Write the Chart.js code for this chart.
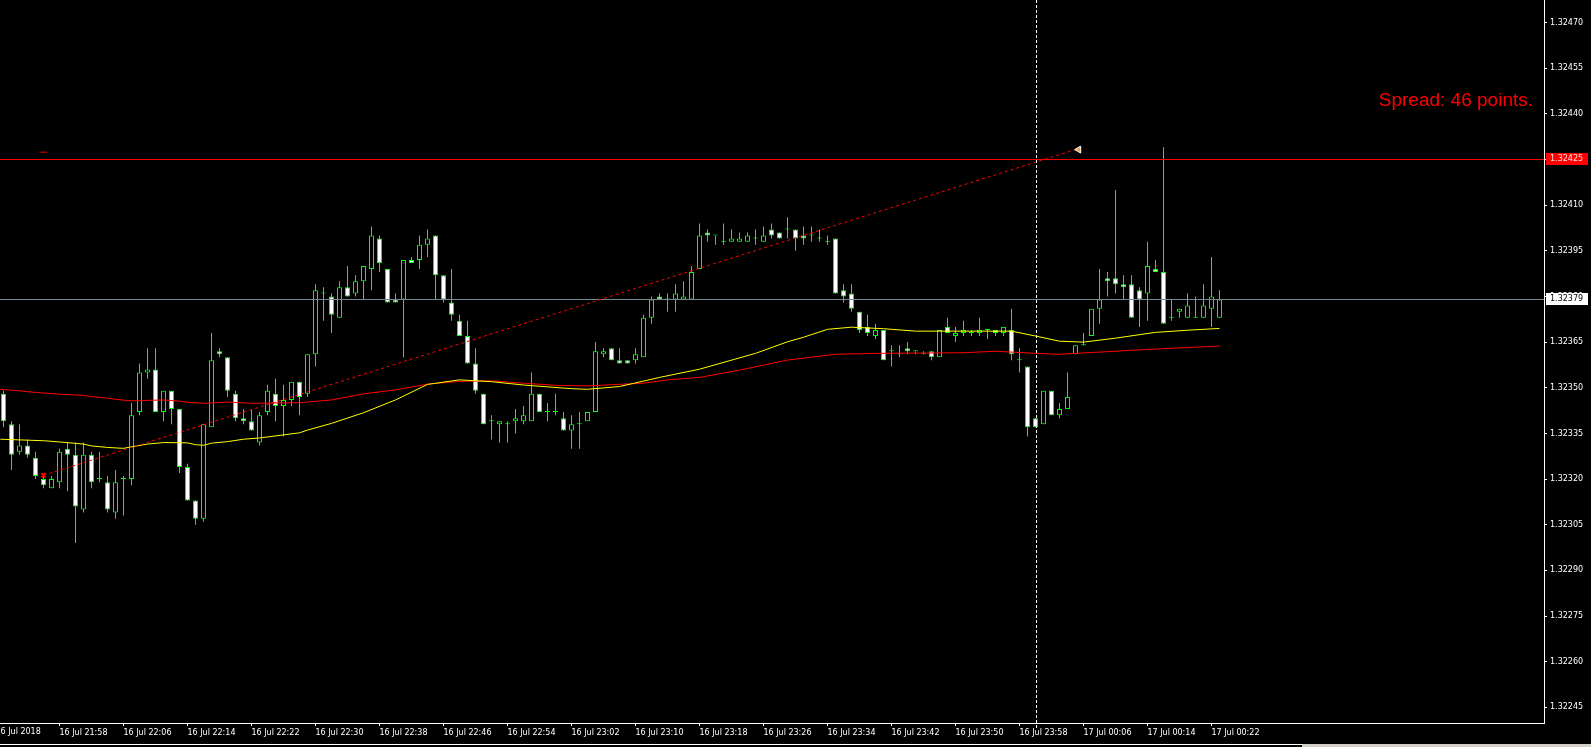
<!DOCTYPE html>
<html>
<head>
<meta charset="utf-8">
<script src="https://cdn.jsdelivr.net/npm/chart.js@4.4.0/dist/chart.umd.min.js"></script>
<style>
  html, body { margin: 0; padding: 0; background: #000; overflow: hidden; }
  canvas { display: block; }
</style>
</head>
<body>
<canvas id="chart" width="1591" height="747"></canvas>
<script>
// M1 candles, 16 Jul 21:51 .. 17 Jul 00:23 (one per minute)
var firstCandle = "16 Jul 21:51";
var open = [
 1.32348,1.32338,1.32329,1.32331,1.32327,1.32320,1.32317,1.32319,1.32330,1.32328,
 1.32310,1.32328,1.32320,1.32319,1.32309,1.32320,1.32320,1.32342,1.32355,1.32356,
 1.32342,1.32349,1.32343,1.32324,1.32313,1.32307,1.32337,1.32362,1.32360,1.32348,
 1.32340,1.32339,1.32332,1.32342,1.32348,1.32344,1.32346,1.32352,1.32348,1.32361,
 1.32381,1.32380,1.32373,1.32383,1.32381,1.32385,1.32389,1.32399,1.32389,1.32379,
 1.32379,1.32392,1.32392,1.32397,1.32400,1.32387,1.32378,1.32372,1.32367,1.32358,
 1.32348,1.32339,1.32338,1.32338,1.32339,1.32339,1.32339,1.32348,1.32342,1.32342,
 1.32340,1.32336,1.32338,1.32339,1.32342,1.32361,1.32363,1.32359,1.32359,1.32359,
 1.32360,1.32373,1.32380,1.32379,1.32379,1.32379,1.32379,1.32389,1.32401,1.32400,
 1.32398,1.32398,1.32398,1.32398,1.32399,1.32398,1.32402,1.32401,1.32402,1.32402,
 1.32400,1.32400,1.32399,1.32398,1.32399,1.32382,1.32381,1.32375,1.32370,1.32367,
 1.32369,1.32362,1.32361,1.32363,1.32362,1.32361,1.32362,1.32360,1.32370,1.32367,
 1.32368,1.32368,1.32368,1.32369,1.32369,1.32368,1.32369,1.32359,1.32357,1.32340,
 1.32338,1.32349,1.32341,1.32343,1.32361,1.32364,1.32367,1.32376,1.32386,1.32386,
 1.32384,1.32384,1.32382,1.32381,1.32389,1.32388,1.32373,1.32375,1.32373,1.32373,
 1.32373,1.32376,1.32373];
var high = [
 1.32349,1.32339,1.32338,1.32333,1.32329,1.32321,1.32321,1.32330,1.32332,1.32332,
 1.32332,1.32329,1.32329,1.32321,1.32323,1.32321,1.32345,1.32358,1.32363,1.32363,
 1.32349,1.32349,1.32343,1.32325,1.32313,1.32338,1.32368,1.32363,1.32360,1.32349,
 1.32343,1.32343,1.32342,1.32351,1.32353,1.32351,1.32352,1.32352,1.32361,1.32384,
 1.32383,1.32381,1.32385,1.32390,1.32387,1.32390,1.32403,1.32400,1.32389,1.32381,
 1.32392,1.32393,1.32400,1.32402,1.32400,1.32387,1.32389,1.32374,1.32372,1.32363,
 1.32348,1.32341,1.32339,1.32339,1.32343,1.32344,1.32355,1.32348,1.32345,1.32348,
 1.32342,1.32341,1.32342,1.32342,1.32365,1.32363,1.32363,1.32363,1.32359,1.32363,
 1.32374,1.32380,1.32381,1.32381,1.32384,1.32385,1.32390,1.32404,1.32402,1.32400,
 1.32404,1.32402,1.32401,1.32401,1.32402,1.32403,1.32404,1.32401,1.32406,1.32402,
 1.32403,1.32403,1.32402,1.32400,1.32399,1.32384,1.32384,1.32375,1.32374,1.32371,
 1.32369,1.32364,1.32364,1.32365,1.32362,1.32362,1.32362,1.32369,1.32373,1.32370,
 1.32372,1.32369,1.32373,1.32369,1.32369,1.32370,1.32376,1.32363,1.32357,1.32340,
 1.32349,1.32349,1.32345,1.32355,1.32364,1.32368,1.32376,1.32389,1.32388,1.32415,
 1.32387,1.32387,1.32383,1.32398,1.32392,1.32429,1.32379,1.32376,1.32381,1.32380,
 1.32384,1.32393,1.32382];
var low = [
 1.32337,1.32323,1.32328,1.32327,1.32320,1.32317,1.32317,1.32317,1.32316,1.32299,
 1.32309,1.32317,1.32319,1.32309,1.32307,1.32308,1.32318,1.32341,1.32353,1.32342,
 1.32339,1.32338,1.32322,1.32313,1.32305,1.32306,1.32337,1.32360,1.32347,1.32339,
 1.32338,1.32336,1.32331,1.32341,1.32339,1.32334,1.32344,1.32341,1.32347,1.32357,
 1.32372,1.32368,1.32373,1.32380,1.32380,1.32379,1.32382,1.32388,1.32378,1.32378,
 1.32360,1.32391,1.32389,1.32393,1.32379,1.32378,1.32372,1.32367,1.32358,1.32348,
 1.32338,1.32333,1.32332,1.32332,1.32335,1.32338,1.32339,1.32342,1.32339,1.32341,
 1.32336,1.32330,1.32330,1.32339,1.32342,1.32360,1.32359,1.32358,1.32358,1.32358,
 1.32360,1.32371,1.32379,1.32375,1.32375,1.32379,1.32379,1.32389,1.32398,1.32397,
 1.32397,1.32398,1.32398,1.32398,1.32397,1.32398,1.32399,1.32399,1.32399,1.32395,
 1.32397,1.32398,1.32398,1.32397,1.32381,1.32378,1.32375,1.32368,1.32367,1.32366,
 1.32359,1.32357,1.32360,1.32361,1.32361,1.32361,1.32359,1.32360,1.32368,1.32365,
 1.32367,1.32367,1.32367,1.32366,1.32367,1.32367,1.32359,1.32355,1.32334,1.32337,
 1.32338,1.32341,1.32340,1.32343,1.32361,1.32364,1.32367,1.32371,1.32380,1.32381,
 1.32379,1.32373,1.32370,1.32372,1.32388,1.32371,1.32372,1.32373,1.32373,1.32373,
 1.32373,1.32370,1.32373];
var close = [
 1.32339,1.32328,1.32331,1.32328,1.32321,1.32318,1.32320,1.32329,1.32328,1.32311,
 1.32328,1.32319,1.32320,1.32310,1.32319,1.32320,1.32341,1.32355,1.32356,1.32342,
 1.32349,1.32343,1.32324,1.32313,1.32307,1.32338,1.32359,1.32361,1.32349,1.32340,
 1.32339,1.32336,1.32341,1.32349,1.32344,1.32346,1.32352,1.32347,1.32361,1.32382,
 1.32381,1.32374,1.32383,1.32380,1.32385,1.32390,1.32400,1.32391,1.32378,1.32378,
 1.32392,1.32391,1.32397,1.32399,1.32387,1.32379,1.32374,1.32367,1.32358,1.32349,
 1.32338,1.32339,1.32339,1.32338,1.32340,1.32341,1.32348,1.32342,1.32342,1.32342,
 1.32336,1.32338,1.32338,1.32342,1.32362,1.32362,1.32359,1.32358,1.32358,1.32361,
 1.32373,1.32379,1.32379,1.32379,1.32381,1.32380,1.32388,1.32400,1.32400,1.32400,
 1.32398,1.32399,1.32399,1.32400,1.32399,1.32400,1.32400,1.32399,1.32402,1.32399,
 1.32399,1.32400,1.32399,1.32398,1.32381,1.32380,1.32376,1.32369,1.32368,1.32369,
 1.32359,1.32362,1.32361,1.32362,1.32362,1.32361,1.32360,1.32369,1.32368,1.32368,
 1.32369,1.32368,1.32369,1.32369,1.32368,1.32370,1.32361,1.32359,1.32337,1.32337,
 1.32349,1.32341,1.32343,1.32347,1.32364,1.32364,1.32376,1.32379,1.32385,1.32384,
 1.32383,1.32373,1.32379,1.32390,1.32388,1.32371,1.32373,1.32376,1.32377,1.32373,
 1.32377,1.32380,1.32379];

// moving averages (candle index -> value)
var yellowMaIdx = [-0.4,5,7,10,11,13,15,16,18,20,23,24,25,26,28,30,32,37,38,41,45,49,53,57,61,65,71,73,77,82,87,94,98,100,103,106,110,114,126,129,132,135,139,144,148,152];
var yellowMa = [1.323331,1.323326,1.323322,1.323315,1.323309,1.323304,1.323301,1.323306,1.323315,1.323320,1.323319,1.323313,1.323311,1.323318,1.323323,1.323331,1.323335,1.323352,1.323361,1.323383,1.323418,1.323460,1.323511,1.323526,1.323520,1.323509,1.323497,1.323495,1.323504,1.323534,1.323561,1.323613,1.323651,1.323666,1.323692,1.323699,1.323694,1.323686,1.323686,1.323670,1.323653,1.323650,1.323663,1.323682,1.323689,1.323695];
var redMaIdx = [-0.4,2,3,5,7,10,11,13,14,16,20,22,23,25,28,31,37,41,45,49,53,57,61,65,69,73,76,80,83,87,92,98,104,109,120,124,129,132,143,152];
var redMa = [1.323495,1.323490,1.323487,1.323483,1.323479,1.323475,1.323471,1.323466,1.323462,1.323457,1.323460,1.323456,1.323452,1.323449,1.323453,1.323449,1.323451,1.323460,1.323480,1.323493,1.323512,1.323521,1.323523,1.323515,1.323508,1.323506,1.323510,1.323515,1.323526,1.323534,1.323558,1.323591,1.323610,1.323613,1.323615,1.323620,1.323613,1.323610,1.323626,1.323637];

// trend line, price lines, markers
var trendIdx = [5, 134];
var trendPrice = [1.3232125, 1.3242825];
var askPrice = 1.32425;
var bidPrice = 1.32379;
var daySepIdx = 129;
var spreadText = "Spread: 46 points.";

// axes
var xTickIdx = [7,15,23,31,39,47,55,63,71,79,87,95,103,111,119,127,135,143,151];
var xTickLabels = ["16 Jul 21:58","16 Jul 22:06","16 Jul 22:14","16 Jul 22:22","16 Jul 22:30","16 Jul 22:38","16 Jul 22:46","16 Jul 22:54","16 Jul 23:02","16 Jul 23:10","16 Jul 23:18","16 Jul 23:26","16 Jul 23:34","16 Jul 23:42","16 Jul 23:50","16 Jul 23:58","17 Jul 00:06","17 Jul 00:14","17 Jul 00:22"];
var dateLabel = "16 Jul 2018";
var yTicks = [1.32245,1.32260,1.32275,1.32290,1.32305,1.32320,1.32335,1.32350,1.32365,1.32380,1.32395,1.32410,1.32425,1.32440,1.32455,1.32470];

var main = function () {
    "use strict";
    var LIME = "#00ff00";
    var FONT = "\"DejaVu Sans\", Verdana, sans-serif";
    var xMin = -0.4375, xMax = 192.5625;
    var yMin = 1.3223987, yMax = 1.3247739;

    //Candle Part
    var wicks = [], bodies = [], fills = [];
    for (var i = 0; i < open.length; i++) {
        wicks.push({x: i, y: [low[i], high[i]]});
        bodies.push({x: i, y: [open[i], close[i]]});
        fills.push(close[i] < open[i] ? "#ffffff" : "#000000");
    }
    var toPoints = function (xs, ys) {
        return xs.map(function (v, j) { return {x: v, y: ys[j]}; });
    };
    var lineSet = function (data, color, extra) {
        var ds = {type: "line", data: data, borderColor: color, borderWidth: 1, pointRadius: 0,
                  tension: 0, fill: false};
        for (var k in extra) { ds[k] = extra[k]; }
        return ds;
    };

    //Overlay Part (separator, price boxes, comment text)
    var overlay = {
        id: "overlay",
        beforeDraw: function (chart) {
            var ctx = chart.ctx;
            ctx.save();
            ctx.fillStyle = "#000";
            ctx.fillRect(0, 0, chart.width, chart.height);
            ctx.restore();
        },
        beforeDatasetsDraw: function (chart) {
            var ctx = chart.ctx, area = chart.chartArea;
            var sx = Math.round(chart.scales.x.getPixelForValue(daySepIdx)) + 0.5;
            ctx.save();
            ctx.strokeStyle = "#ffffff";
            ctx.lineWidth = 1;
            ctx.setLineDash([3, 2]);
            ctx.beginPath();
            ctx.moveTo(sx, area.top);
            ctx.lineTo(sx, area.bottom + 5);
            ctx.stroke();
            ctx.restore();
        },
        afterDraw: function (chart) {
            var ctx = chart.ctx, area = chart.chartArea;
            var xs = chart.scales.x, ys = chart.scales.y;
            ctx.save();
            // price boxes on the axis
            var box = function (v, bg, fg) {
                var y = Math.round(ys.getPixelForValue(v));
                ctx.fillStyle = bg;
                ctx.fillRect(area.right + 2, y - 6, 42, 12);
                ctx.fillStyle = fg;
                ctx.font = "8px " + FONT;
                ctx.textBaseline = "middle";
                ctx.textAlign = "left";
                ctx.fillText(v.toFixed(5), area.right + 6, y);
            };
            box(askPrice, "#ff0000", "#ffe0e0");
            box(bidPrice, "#ffffff", "#000000");
            // first (cut) date label
            ctx.fillStyle = "#ffffff";
            ctx.font = "8px " + FONT;
            ctx.textBaseline = "middle";
            ctx.textAlign = "left";
            ctx.fillText(dateLabel, xs.getPixelForValue(-1), xs.top + 9);
            // spread comment
            ctx.fillStyle = "#ff0000";
            ctx.font = "19px \"Liberation Sans\", Arial, sans-serif";
            ctx.textAlign = "right";
            ctx.textBaseline = "middle";
            ctx.fillText(spreadText, area.right - 11, ys.getPixelForValue(1.324444));
            // window bottom edge
            ctx.fillStyle = "#ffffff";
            ctx.fillRect(0, 744, chart.width, 1);
            ctx.fillStyle = "#d4d0c8";
            ctx.fillRect(1302, 744, chart.width - 1302, 3);
            ctx.restore();
        }
    };

    //Chart Part
    new Chart(document.getElementById("chart"), {
        type: "bar",
        data: {
            datasets: [
                lineSet([{x: trendIdx[0], y: trendPrice[0]}], "#ff0000",
                        {type: "scatter", pointStyle: "crossRot", pointRadius: 3, pointBorderWidth: 2,
                         pointBorderColor: "#ff0000", showLine: false, order: 0}),
                lineSet([{x: trendIdx[1] + 0.4, y: trendPrice[1]}], "#f0a030",
                        {type: "scatter", pointStyle: "triangle", rotation: -90, pointRadius: 4,
                         pointBackgroundColor: "#f0a030", pointBorderColor: "#ffffff", pointBorderWidth: 1,
                         showLine: false, order: 0}),
                lineSet(toPoints(trendIdx, trendPrice), "#ff0000", {borderDash: [3, 3], order: 1}),
                lineSet([{x: 4.6, y: 1.324274}, {x: 5.4, y: 1.324274}], "#ff0000", {order: 1}),
                lineSet([{x: xMin, y: askPrice}, {x: xMax, y: askPrice}], "#ff0000", {order: 2}),
                lineSet([{x: xMin, y: bidPrice}, {x: xMax, y: bidPrice}], "#778899", {order: 2}),
                lineSet(toPoints(yellowMaIdx, yellowMa), "#ffff00", {order: 3}),
                lineSet(toPoints(redMaIdx, redMa), "#ff0000", {order: 4}),
                {type: "bar", data: bodies, backgroundColor: fills, borderColor: LIME, borderWidth: 1,
                 borderSkipped: false, barThickness: 5, grouped: false, minBarLength: 1,
                 inflateAmount: 0, order: 9},
                {type: "bar", data: wicks, backgroundColor: LIME, borderWidth: 0, barThickness: 1,
                 grouped: false, minBarLength: 1, inflateAmount: 0, order: 10}
            ]
        },
        options: {
            responsive: false,
            animation: false,
            events: [],
            layout: {padding: 0, autoPadding: false},
            plugins: {legend: {display: false}, tooltip: {enabled: false}},
            scales: {
                x: {
                    type: "linear", min: xMin, max: xMax, offset: false,
                    afterBuildTicks: function (s) { s.ticks = xTickIdx.map(function (v) { return {value: v}; }); },
                    afterFit: function (s) { s.height = 24; s.paddingLeft = 0; s.paddingRight = 0; },
                    ticks: {color: "#ffffff", font: {family: FONT, size: 8}, align: "start", maxRotation: 0,
                            autoSkip: false, padding: 2,
                            callback: function (v, idx) { return xTickLabels[idx]; }},
                    grid: {drawOnChartArea: false, color: "#ffffff", tickLength: 3, offset: false},
                    border: {color: "#ffffff", width: 1}
                },
                y: {
                    position: "right", min: yMin, max: yMax,
                    afterBuildTicks: function (s) { s.ticks = yTicks.map(function (v) { return {value: v}; }); },
                    afterFit: function (s) { s.width = 47; s.paddingTop = 0; s.paddingBottom = 0; },
                    ticks: {color: "#ffffff", font: {family: FONT, size: 8}, padding: 3,
                            callback: function (v) { return v.toFixed(5); }},
                    grid: {drawOnChartArea: false, color: "#ffffff", tickLength: 3},
                    border: {color: "#ffffff", width: 1}
                }
            }
        },
        plugins: [overlay]
    });
};

main();
</script>
</body>
</html>
